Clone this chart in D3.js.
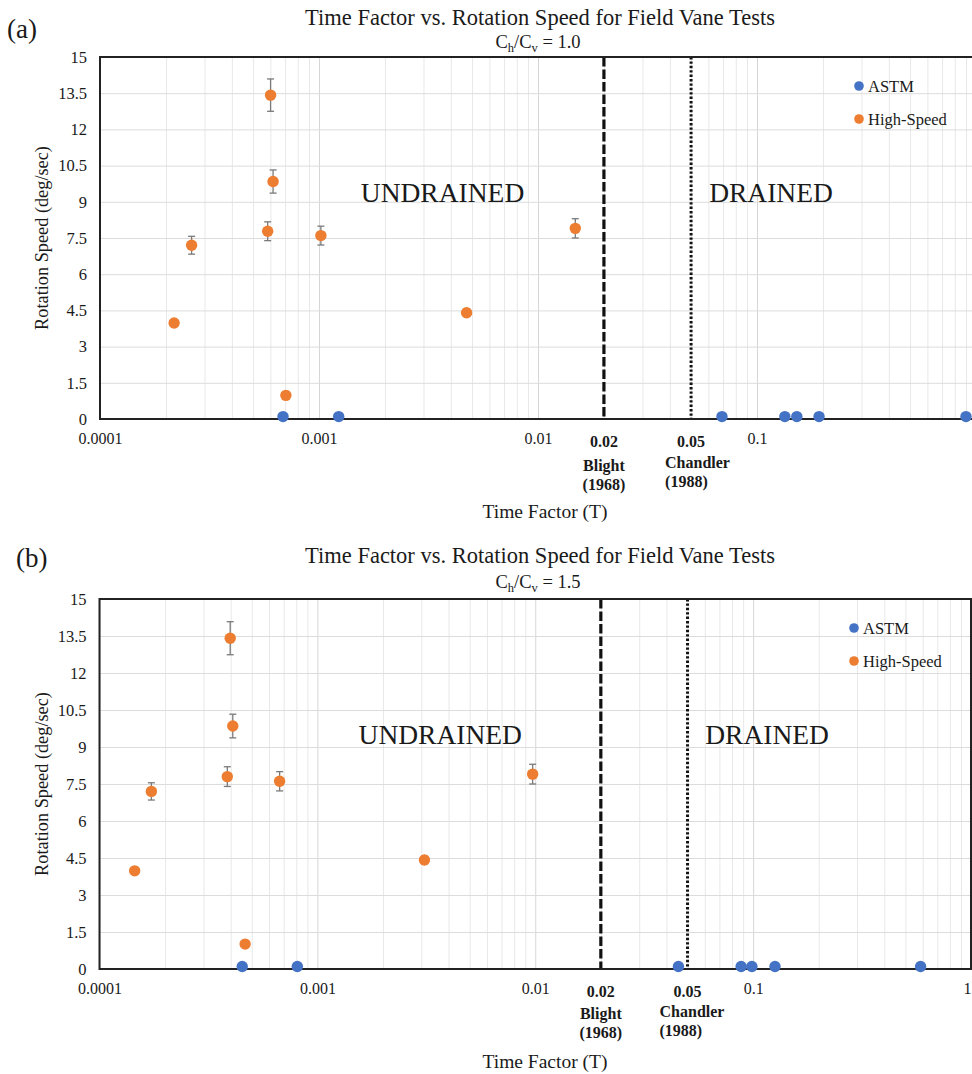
<!DOCTYPE html>
<html>
<head>
<meta charset="utf-8">
<script src="https://cdn.jsdelivr.net/npm/d3@7"></script>
<style>
  html, body { margin: 0; padding: 0; background: #fff; }
  svg { display: block; }
  text { font-family: "Liberation Serif", "Times New Roman", serif; fill: #1a1a1a; }
</style>
</head>
<body>
<script>
// ---------------- DATA ----------------
const xTickValues = [0.0001, 0.001, 0.01, 0.1, 1];
const xTickLabels = ["0.0001", "0.001", "0.01", "0.1", "1"];
const yTickValues = [0, 1.5, 3, 4.5, 6, 7.5, 9, 10.5, 12, 13.5, 15];
const yTickLabels = ["0", "1.5", "3", "4.5", "6", "7.5", "9", "10.5", "12", "13.5", "15"];

const seriesNames = ["ASTM", "High-Speed"];

// Panel (a): Ch/Cv = 1.0
const astmT_a = [0.000685, 0.00123, 0.0692, 0.134, 0.152, 0.192, 0.90];
const astmSpeed_a = [0.1, 0.1, 0.1, 0.1, 0.1, 0.1, 0.1];
const hsT_a = [0.000218, 0.000262, 0.000583, 0.000601, 0.000617, 0.000706, 0.00102, 0.00472, 0.0148];
const hsSpeed_a = [3.98, 7.2, 7.78, 13.42, 9.84, 0.98, 7.6, 4.4, 7.9];
const hsErr_a = [0.08, 0.37, 0.39, 0.67, 0.48, 0.08, 0.39, 0.15, 0.4];

// Panel (b): Ch/Cv = 1.5
const astmT_b = [0.000452, 0.000809, 0.0454, 0.0881, 0.0987, 0.126, 0.587];
const astmSpeed_b = [0.1, 0.1, 0.1, 0.1, 0.1, 0.1, 0.1];
const hsT_b = [0.000145, 0.000173, 0.000386, 0.000398, 0.000409, 0.000466, 0.000671, 0.0031, 0.00973];
const hsSpeed_b = [3.98, 7.2, 7.8, 13.41, 9.85, 1.01, 7.61, 4.42, 7.9];
const hsErr_b = [0.08, 0.35, 0.4, 0.67, 0.48, 0.08, 0.39, 0.15, 0.4];

// Reference limits
const refValues = [0.02, 0.05];
const refNames = [["Blight", "(1968)"], ["Chandler", "(1988)"]];
const refTickLabels = ["0.02", "0.05"];

const titleText = "Time Factor vs. Rotation Speed for Field Vane Tests";
const xTitle = "Time Factor (T)";
const yTitle = "Rotation Speed (deg/sec)";
const regionLabels = ["UNDRAINED", "DRAINED"];

// ---------------- DRAW ----------------
const W = 972, H = 1074;
const svg = d3.select("body").append("svg").attr("width", W).attr("height", H);

const blue = "#4472C4", orange = "#ED7D31";

function drawPanel(cfg) {
  const x = d3.scaleLog().domain([0.0001, 1]).range([cfg.left, cfg.right]);
  const y = d3.scaleLinear().domain([0, 15]).range([cfg.bottom, cfg.top]);
  const g = svg.append("g");

  // minor + major vertical gridlines
  const minor = [];
  for (let e = -4; e < 0; e++) for (let k = 2; k <= 9; k++) minor.push(k * Math.pow(10, e));
  g.append("g").attr("transform", `translate(0,${cfg.bottom})`)
    .call(d3.axisBottom(x).tickValues(minor).tickSize(-(cfg.bottom - cfg.top)).tickFormat(""))
    .call(s => s.select(".domain").remove())
    .call(s => s.selectAll("line").attr("stroke", "#e8e8e8").attr("stroke-width", 1));
  g.append("g").attr("transform", `translate(0,${cfg.bottom})`)
    .call(d3.axisBottom(x).tickValues(xTickValues).tickSize(-(cfg.bottom - cfg.top)).tickFormat(""))
    .call(s => s.select(".domain").remove())
    .call(s => s.selectAll("line").attr("stroke", "#d6d6d6").attr("stroke-width", 1));
  // horizontal gridlines
  g.append("g").attr("transform", `translate(${cfg.left},0)`)
    .call(d3.axisLeft(y).tickValues(yTickValues).tickSize(-(cfg.right - cfg.left)).tickFormat(""))
    .call(s => s.select(".domain").remove())
    .call(s => s.selectAll("line").attr("stroke", "#dcdcdc").attr("stroke-width", 1));

  // y tick labels
  g.append("g").attr("transform", `translate(${cfg.left},0)`)
    .call(d3.axisLeft(y).tickValues(yTickValues).tickSize(0).tickPadding(13)
      .tickFormat((d, i) => yTickLabels[i]))
    .call(s => s.select(".domain").remove())
    .call(s => s.selectAll("text").attr("font-family", "Liberation Serif").attr("font-size", 16.5).attr("fill", "#1a1a1a"));

  // x tick labels (those whose anchor lies on the page, as in the reference)
  const xv = xTickValues.filter(v => x(v) <= W);
  g.append("g").attr("transform", `translate(0,${cfg.bottom})`)
    .call(d3.axisBottom(x).tickValues(xv).tickSize(0).tickPadding(14)
      .tickFormat(d => xTickLabels[xTickValues.indexOf(d)]))
    .call(s => s.select(".domain").remove())
    .call(s => s.selectAll("text").attr("font-family", "Liberation Serif").attr("font-size", 16).attr("fill", "#1a1a1a")
      .attr("text-anchor", d => (x(d) + 5 > W ? "end" : "middle"))
      .attr("x", d => (x(d) + 5 > W ? W - 1 - x(d) : 0)));

  // reference lines
  refValues.forEach((v, i) => {
    g.append("line")
      .attr("x1", x(v)).attr("x2", x(v)).attr("y1", cfg.top).attr("y2", cfg.bottom)
      .attr("stroke", "#111")
      .attr("stroke-width", i === 0 ? 3.2 : 3)
      .attr("stroke-dasharray", i === 0 ? "9.5,3" : "2.4,2");
  });

  // plot frame
  g.append("rect").attr("x", cfg.left).attr("y", cfg.top)
    .attr("width", cfg.right - cfg.left).attr("height", cfg.bottom - cfg.top)
    .attr("fill", "none").attr("stroke", "#222").attr("stroke-width", 2);

  // reference tick labels & names
  refValues.forEach((v, i) => {
    g.append("text").attr("x", x(v)).attr("y", cfg.bottom + 28)
      .attr("text-anchor", "middle").attr("font-size", 16).attr("font-weight", "bold")
      .text(refTickLabels[i]);
  });
  g.append("text").attr("x", x(refValues[0])).attr("y", cfg.bottom + cfg.blightDy)
    .attr("text-anchor", "middle").attr("font-size", 16).attr("font-weight", "bold").text(refNames[0][0]);
  g.append("text").attr("x", x(refValues[0])).attr("y", cfg.bottom + cfg.blightDy + 18.5)
    .attr("text-anchor", "middle").attr("font-size", 16).attr("font-weight", "bold").text(refNames[0][1]);
  g.append("text").attr("x", x(refValues[1]) - cfg.chandlerDx).attr("y", cfg.bottom + cfg.chandlerDy)
    .attr("text-anchor", "start").attr("font-size", 16).attr("font-weight", "bold").text(refNames[1][0]);
  g.append("text").attr("x", x(refValues[1]) - cfg.chandlerDx).attr("y", cfg.bottom + cfg.chandlerDy + 19)
    .attr("text-anchor", "start").attr("font-size", 16).attr("font-weight", "bold").text(refNames[1][1]);

  // region labels
  g.append("text").attr("x", cfg.left + 0.391 * (cfg.right - cfg.left)).attr("y", cfg.top + 145)
    .attr("text-anchor", "middle").attr("font-size", 27.5).text(regionLabels[0]);
  g.append("text").attr("x", cfg.left + 0.766 * (cfg.right - cfg.left)).attr("y", cfg.top + 145)
    .attr("text-anchor", "middle").attr("font-size", 27.5).text(regionLabels[1]);

  // error bars
  const hs = cfg.hsT.map((t, i) => ({ t, v: cfg.hsSpeed[i], e: cfg.hsErr[i] }));
  const eb = g.append("g").attr("stroke", "#7a7a7a").attr("stroke-width", 1.3);
  hs.forEach(d => {
    const cx = x(d.t);
    eb.append("line").attr("x1", cx).attr("x2", cx).attr("y1", y(d.v - d.e)).attr("y2", y(d.v + d.e));
    eb.append("line").attr("x1", cx - 3.5).attr("x2", cx + 3.5).attr("y1", y(d.v - d.e)).attr("y2", y(d.v - d.e));
    eb.append("line").attr("x1", cx - 3.5).attr("x2", cx + 3.5).attr("y1", y(d.v + d.e)).attr("y2", y(d.v + d.e));
  });

  // ASTM points
  g.append("g").selectAll("circle").data(cfg.astmT.map((t, i) => ({ t, v: cfg.astmSpeed[i] })))
    .join("circle").attr("cx", d => x(d.t)).attr("cy", d => y(d.v)).attr("r", 5.7).attr("fill", blue);
  // High-speed points
  g.append("g").selectAll("circle").data(hs)
    .join("circle").attr("cx", d => x(d.t)).attr("cy", d => y(d.v)).attr("r", 5.7).attr("fill", orange);

  // legend
  const lx = cfg.right - 117;
  [blue, orange].forEach((c, i) => {
    g.append("circle").attr("cx", lx).attr("cy", cfg.top + 29 + i * 33).attr("r", 4.8).attr("fill", c);
    g.append("text").attr("x", lx + 9).attr("y", cfg.top + 29 + i * 33 + 5.5)
      .attr("font-size", 16.5).text(seriesNames[i]);
  });

  // titles
  g.append("text").attr("x", 540).attr("y", cfg.titleY).attr("text-anchor", "middle")
    .attr("font-size", 22.5).text(titleText);
  const sub = g.append("text").attr("x", 538).attr("y", cfg.subY).attr("text-anchor", "middle")
    .attr("font-size", 18.5);
  sub.append("tspan").text("C");
  sub.append("tspan").attr("font-size", 12.5).attr("dy", 4).text("h");
  sub.append("tspan").attr("dy", -4).text("/C");
  sub.append("tspan").attr("font-size", 12.5).attr("dy", 4).text("v");
  sub.append("tspan").attr("dy", -4).text(" = " + cfg.ratio);

  // panel tag
  g.append("text").attr("x", cfg.tagX).attr("y", cfg.tagY).attr("font-size", 27).text(cfg.tag);

  // axis titles
  g.append("text").attr("x", 545).attr("y", cfg.bottom + 99).attr("text-anchor", "middle")
    .attr("font-size", 19.5).text(xTitle);
  g.append("text")
    .attr("transform", `translate(48,${(cfg.top + cfg.bottom) / 2}) rotate(-90)`)
    .attr("text-anchor", "middle").attr("font-family", "Liberation Sans").attr("font-size", 18.3)
    .text(yTitle);
}

drawPanel({
  left: 100, right: 976, top: 57, bottom: 419,
  tag: "(a)", tagX: 7, tagY: 38, titleY: 25, subY: 48, ratio: "1.0",
  blightDy: 52, chandlerDx: 26, chandlerDy: 49,
  astmT: astmT_a, astmSpeed: astmSpeed_a, hsT: hsT_a, hsSpeed: hsSpeed_a, hsErr: hsErr_a
});
drawPanel({
  left: 99.5, right: 971, top: 599, bottom: 969,
  tag: "(b)", tagX: 16, tagY: 567, titleY: 563, subY: 588, ratio: "1.5",
  blightDy: 50, chandlerDx: 28, chandlerDy: 48,
  astmT: astmT_b, astmSpeed: astmSpeed_b, hsT: hsT_b, hsSpeed: hsSpeed_b, hsErr: hsErr_b
});
</script>
</body>
</html>
